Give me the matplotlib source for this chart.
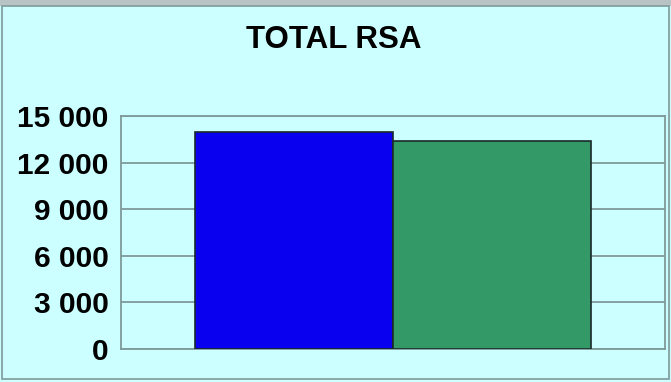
import matplotlib
matplotlib.use("Agg")
import matplotlib.pyplot as plt
from matplotlib.patches import Rectangle
from matplotlib.ticker import FuncFormatter

categories = ["A", "B"]
values = [13990, 13410]
colors = ["#0A00F0", "#339966"]
yticks = [0, 3000, 6000, 9000, 12000, 15000]
title = "TOTAL RSA"

W, H = 671, 382
fig = plt.figure(figsize=(W / 100, H / 100), dpi=100)
fig.patch.set_facecolor("#CCFFFF")

# outer frame
fig.patches.append(Rectangle((0, (H - 6) / H), 1, 6 / H, transform=fig.transFigure,
                             facecolor="#B8C4C4", edgecolor="none", zorder=0))
fig.patches.append(Rectangle((2 / W, 3 / H), (W - 4) / W, (H - 9) / H, transform=fig.transFigure,
                             facecolor="none", edgecolor="#7F9A9A", lw=1.2, zorder=1))

left, right, top, bottom = 121, 665, 116, 349
ax = fig.add_axes([left / W, (H - bottom) / H, (right - left) / W, (bottom - top) / H])
ax.set_facecolor("#CCFFFF")

x = list(range(len(categories)))
ax.bar(x, values, width=1.0, color=colors, edgecolor="#1A2A2A", linewidth=1.2, zorder=3)

ax.set_xlim(-0.874, 1.874)
ax.set_ylim(0, 15000)
ax.set_yticks(yticks)
ax.yaxis.set_major_formatter(FuncFormatter(lambda v, p: f"{int(v):,}".replace(",", " ")))
ax.set_xticks([])
ax.grid(axis="y", color="#7F9A9A", lw=1.3, zorder=0)
for s in ax.spines.values():
    s.set_color("#7F9A9A")
    s.set_linewidth(1.3)
ax.tick_params(axis="y", length=0, pad=9, labelsize=21.5)
for lbl in ax.get_yticklabels():
    lbl.set_fontfamily("Liberation Sans")
    lbl.set_fontweight("bold")

fig.text(334 / W, 1 - 40 / H, title, ha="center", va="center",
         fontsize=22.5, fontweight="bold", family="Liberation Sans")

fig.savefig("out.png", dpi=100, facecolor=fig.get_facecolor())
